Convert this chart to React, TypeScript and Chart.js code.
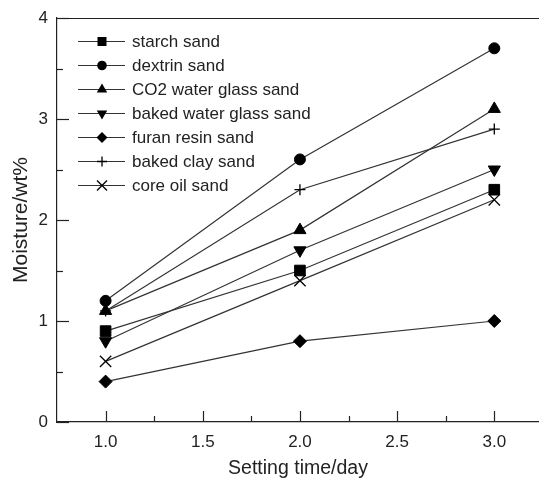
import React, { useEffect, useRef } from "react";
import { Chart, registerables } from "chart.js";

Chart.register(...registerables);

const days = [1.0, 2.0, 3.0];
const starchSand = [0.9, 1.5, 2.3];
const dextrinSand = [1.2, 2.6, 3.7];
const co2WaterGlassSand = [1.1, 1.9, 3.1];
const bakedWaterGlassSand = [0.8, 1.7, 2.5];
const furanResinSand = [0.4, 0.8, 1.0];
const bakedClaySand = [1.1, 2.3, 2.9];
const coreOilSand = [0.6, 1.4, 2.2];

const seriesNames = [
  "starch sand",
  "dextrin sand",
  "CO2 water glass sand",
  "baked water glass sand",
  "furan resin sand",
  "baked clay sand",
  "core oil sand",
];
const seriesValues = [
  starchSand,
  dextrinSand,
  co2WaterGlassSand,
  bakedWaterGlassSand,
  furanResinSand,
  bakedClaySand,
  coreOilSand,
];
const pointStyles: any[] = ["rect", "circle", "triangle", "triangle", "rectRot", "cross", "crossRot"];
const pointRotations = [0, 0, 0, 180, 0, 0, 0];
const pointRadii = [7.5, 5.5, 7, 7, 6.5, 5.5, 8];
const legendSizes = [4.5, 4.8, 6, 6, 5.5, 5, 5];

const xMajorTicks = [1.0, 1.5, 2.0, 2.5, 3.0];
const xMinorTicks = [1.25, 1.75, 2.25, 2.75];
const yMajorTicks = [0, 1, 2, 3, 4];
const yMinorTicks = [0.5, 1.5, 2.5, 3.5];

const xTitle = "Setting time/day";
const yTitle = "Moisture/wt%";

const INK = "#222";
const LINE = "#333";
const FONT = "'Liberation Sans', Arial, sans-serif";

function drawMarker(ctx: any, style: string, r: number, rot: number, cx: number, cy: number) {
  ctx.save();
  ctx.translate(cx, cy);
  ctx.rotate((rot * Math.PI) / 180);
  ctx.beginPath();
  if (style === "rect") {
    ctx.rect(-r, -r, 2 * r, 2 * r);
    ctx.fill();
  } else if (style === "circle") {
    ctx.arc(0, 0, r, 0, Math.PI * 2);
    ctx.fill();
  } else if (style === "triangle") {
    ctx.moveTo(0, -r);
    ctx.lineTo(r * 0.87, r * 0.5);
    ctx.lineTo(-r * 0.87, r * 0.5);
    ctx.closePath();
    ctx.fill();
  } else if (style === "rectRot") {
    ctx.moveTo(0, -r);
    ctx.lineTo(r, 0);
    ctx.lineTo(0, r);
    ctx.lineTo(-r, 0);
    ctx.closePath();
    ctx.fill();
  } else if (style === "cross") {
    ctx.moveTo(-r, 0);
    ctx.lineTo(r, 0);
    ctx.moveTo(0, -r);
    ctx.lineTo(0, r);
    ctx.stroke();
  } else if (style === "crossRot") {
    ctx.moveTo(-r, -r);
    ctx.lineTo(r, r);
    ctx.moveTo(-r, r);
    ctx.lineTo(r, -r);
    ctx.stroke();
  }
  ctx.restore();
}

const frameAndLegend = {
  id: "frameAndLegend",
  afterDatasetsDraw(chart: any) {
    const { ctx, chartArea, scales } = chart;
    const x = scales.x;
    const y = scales.y;
    ctx.save();
    ctx.strokeStyle = INK;
    ctx.lineWidth = 1.2;
    ctx.beginPath();
    ctx.moveTo(chartArea.left, chartArea.top + 0.5);
    ctx.lineTo(chartArea.right, chartArea.top + 0.5);
    ctx.stroke();
    const drawX = (v: number, len: number) => {
      const px = Math.round(x.getPixelForValue(v)) + 0.5;
      ctx.beginPath();
      ctx.moveTo(px, chartArea.bottom);
      ctx.lineTo(px, chartArea.bottom - len);
      ctx.stroke();
    };
    const drawY = (v: number, len: number) => {
      const py = Math.round(y.getPixelForValue(v)) + 0.5;
      ctx.beginPath();
      ctx.moveTo(chartArea.left, py);
      ctx.lineTo(chartArea.left + len, py);
      ctx.stroke();
    };
    xMajorTicks.forEach((v) => drawX(v, 11));
    xMinorTicks.forEach((v) => drawX(v, 6));
    yMajorTicks.forEach((v) => drawY(v, 12));
    yMinorTicks.forEach((v) => drawY(v, 6));

    const lx0 = 78;
    const lx1 = 125;
    const mx = 102;
    const tx = 132;
    const y0 = 41;
    const dy = 24;
    ctx.font = `17px ${FONT}`;
    ctx.textBaseline = "middle";
    ctx.textAlign = "left";
    seriesNames.forEach((name, i) => {
      const yy = y0 + i * dy;
      ctx.strokeStyle = LINE;
      ctx.lineWidth = 1.2;
      ctx.beginPath();
      ctx.moveTo(lx0, yy + 0.5);
      ctx.lineTo(lx1, yy + 0.5);
      ctx.stroke();
      ctx.fillStyle = "#000";
      ctx.strokeStyle = "#000";
      ctx.lineWidth = 1.3;
      drawMarker(ctx, pointStyles[i], legendSizes[i], pointRotations[i], mx, yy + 0.5);
      ctx.fillStyle = INK;
      ctx.fillText(name, tx, yy + 1);
    });
    ctx.restore();
  },
};

export default function App() {
  const ref = useRef<HTMLCanvasElement | null>(null);
  useEffect(() => {
    if (!ref.current) return;
    const datasets = seriesNames.map((name, i) => ({
      label: name,
      data: days.map((d, j) => ({ x: d, y: seriesValues[i][j] })),
      borderColor: LINE,
      borderWidth: 1.2,
      backgroundColor: "#000",
      pointBackgroundColor: "#000",
      pointBorderColor: "#000",
      pointBorderWidth: i >= 5 ? 1.3 : 1,
      pointStyle: pointStyles[i],
      pointRotation: pointRotations[i],
      pointRadius: pointRadii[i],
      fill: false,
      tension: 0,
    }));
    const chart = new Chart(ref.current, {
      type: "line",
      data: { datasets },
      plugins: [frameAndLegend],
      options: {
        animation: false,
        responsive: false,
        devicePixelRatio: 1,
        layout: { autoPadding: false, padding: { left: 0, top: 18, right: 0, bottom: 0 } },
        plugins: { legend: { display: false }, tooltip: { enabled: false } },
        scales: {
          x: {
            type: "linear",
            min: 0.75,
            max: 3.23,
            afterBuildTicks: (s: any) => {
              s.ticks = xMajorTicks.map((v) => ({ value: v }));
            },
            afterFit: (s: any) => {
              s.height = 60;
              s.paddingLeft = 0;
              s.paddingRight = 0;
            },
            grid: { display: false, drawTicks: false },
            border: { display: true, color: INK, width: 1.2 },
            ticks: {
              color: INK,
              font: { family: FONT, size: 17 },
              padding: 10,
              maxRotation: 0,
              callback: (v: any) => Number(v).toFixed(1),
            },
            title: {
              display: true,
              text: xTitle,
              color: INK,
              font: { family: FONT, size: 19.5 },
              padding: { top: 0, bottom: 2 },
            },
          },
          y: {
            type: "linear",
            min: 0,
            max: 4,
            afterBuildTicks: (s: any) => {
              s.ticks = yMajorTicks.map((v) => ({ value: v }));
            },
            afterFit: (s: any) => {
              s.width = 57;
              s.paddingTop = 0;
              s.paddingBottom = 0;
            },
            grid: { display: false, drawTicks: false },
            border: { display: true, color: INK, width: 1.2 },
            ticks: {
              color: INK,
              font: { family: FONT, size: 17 },
              padding: 9,
              callback: (v: any) => String(v),
            },
            title: {
              display: true,
              text: yTitle,
              color: INK,
              font: { family: FONT, size: 21 },
              padding: { top: 9, bottom: 0 },
            },
          },
        },
      } as any,
    });
    return () => chart.destroy();
  }, []);
  return (
    <div style={{ position: "fixed", left: 0, top: 0, width: 539, height: 482, background: "#fff", overflow: "hidden" }}>
      <canvas ref={ref} width={539} height={482} style={{ width: 539, height: 482, display: "block" }} />
    </div>
  );
}
